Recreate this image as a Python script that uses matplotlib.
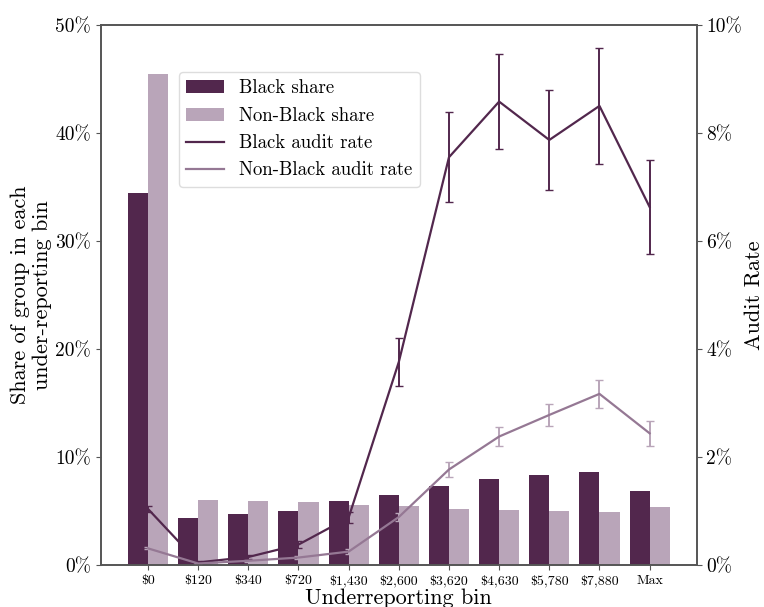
import matplotlib
matplotlib.use("Agg")
import matplotlib.pyplot as plt
import numpy as np
from matplotlib.ticker import PercentFormatter

plt.rcParams['font.family'] = 'serif'
plt.rcParams['font.serif'] = ['cmr10', 'DejaVu Serif']
plt.rcParams['mathtext.fontset'] = 'cm'
plt.rcParams['axes.formatter.use_mathtext'] = True
plt.rcParams['axes.unicode_minus'] = False

bins = ['\\$0', '\\$120', '\\$340', '\\$720', '\\$1,430', '\\$2,600', '\\$3,620',
        '\\$4,630', '\\$5,780', '\\$7,880', 'Max']

# share of each group falling into each under-reporting bin (%)
black_share = [34.4, 4.35, 4.7, 5.0, 5.9, 6.5, 7.3, 7.95, 8.35, 8.6, 6.85]
nonblack_share = [45.5, 6.0, 5.9, 5.8, 5.55, 5.45, 5.2, 5.1, 5.0, 4.9, 5.35]

# audit rates (%) with half-width of the error bars
black_rate = [1.04, 0.05, 0.15, 0.38, 0.88, 3.76, 7.55, 8.58, 7.87, 8.5, 6.63]
black_err = [0.05, 0.02, 0.03, 0.06, 0.1, 0.45, 0.83, 0.88, 0.93, 1.08, 0.87]
nonblack_rate = [0.31, 0.03, 0.08, 0.14, 0.25, 0.89, 1.77, 2.38, 2.78, 3.17, 2.44]
nonblack_err = [0.02, 0.01, 0.02, 0.03, 0.04, 0.07, 0.13, 0.18, 0.21, 0.26, 0.23]

dark = '#52274d'
light = '#b9a5b9'
light_line = '#957894'
spine_col = '#555555'

x = np.arange(len(bins))
w = 0.4

fig, ax = plt.subplots(figsize=(7.64, 6.07), dpi=100)
fig.subplots_adjust(left=0.132, right=0.912, bottom=0.069, top=0.959)

b1 = ax.bar(x - w / 2, black_share, w, color=dark, label='Black share')
b2 = ax.bar(x + w / 2, nonblack_share, w, color=light, label='Non-Black share')
ax.set_ylim(0, 50)
ax.yaxis.set_major_formatter(PercentFormatter(decimals=0, symbol='%'))
ax.set_yticks([0, 10, 20, 30, 40, 50])
ax.set_xticks(x)
ax.set_xticklabels(bins, fontsize=10)
ax.tick_params(axis='y', labelsize=14)
ax.set_xlabel('Underreporting bin', fontsize=16, labelpad=1)
ax.set_ylabel('Share of group in each\nunder-reporting bin', fontsize=16, labelpad=2)

ax2 = ax.twinx()
l1 = ax2.errorbar(x, black_rate, yerr=black_err, color=dark, ecolor=dark,
                  lw=1.6, elinewidth=1.4, capsize=3, label='Black audit rate')
l2 = ax2.errorbar(x, nonblack_rate, yerr=nonblack_err, color=light_line,
                  ecolor=light, lw=1.6, elinewidth=1.4, capsize=3,
                  label='Non-Black audit rate')
ax2.set_ylim(0, 10)
ax2.yaxis.set_major_formatter(PercentFormatter(decimals=0, symbol='%'))
ax2.set_yticks([0, 2, 4, 6, 8, 10])
ax2.tick_params(axis='y', labelsize=14)
ax2.set_ylabel('Audit Rate', fontsize=16, labelpad=1.5)

for a in (ax, ax2):
    for s in a.spines.values():
        s.set_color(spine_col)
        s.set_linewidth(1.2)
    a.tick_params(colors=spine_col, labelcolor='black')

handles = [b1, b2, l1.lines[0], l2.lines[0]]
labels = ['Black share', 'Non-Black share', 'Black audit rate', 'Non-Black audit rate']
ax2.legend(handles, labels, loc='upper left', bbox_to_anchor=(0.115, 0.93),
           fontsize=13.5, frameon=True, edgecolor='#dddddd', framealpha=1,
           handlelength=2.0, borderpad=0.4, labelspacing=0.5)

fig.savefig('out.png', dpi=100)
